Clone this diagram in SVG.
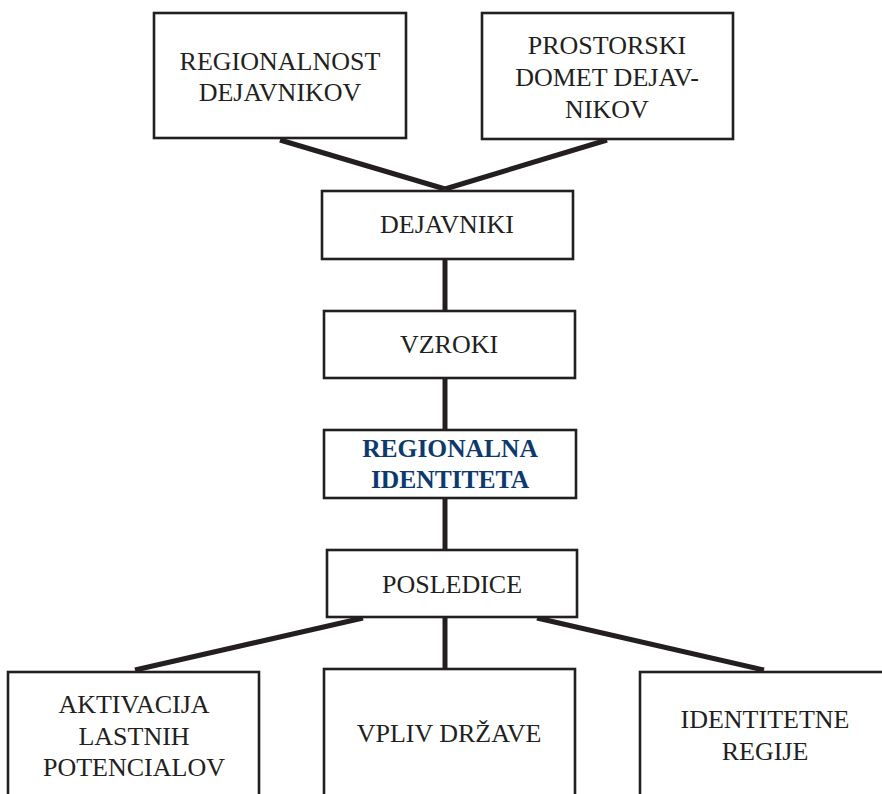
<svg xmlns="http://www.w3.org/2000/svg" width="882" height="794" viewBox="0 0 882 794">
<style>
.box{fill:#fff;stroke:#231f20;stroke-width:2.6}
.t{font-family:"Liberation Serif","Times New Roman",serif;font-size:26px;fill:#231f20;text-anchor:middle}
.b{font-family:"Liberation Serif","Times New Roman",serif;font-size:25.5px;font-weight:bold;fill:#0d3a6e;text-anchor:middle}
.c{stroke:#231f20;stroke-width:5;fill:none}
</style>
<rect width="882" height="794" fill="#fff"/>
<g id="connectors">
<line class="c" x1="280" y1="140" x2="445" y2="189"/>
<line class="c" x1="607" y1="140" x2="445" y2="189"/>
<line class="c" x1="445" y1="259" x2="445" y2="311"/>
<line class="c" x1="445" y1="378" x2="445" y2="430"/>
<line class="c" x1="445" y1="498" x2="445" y2="550"/>
<line class="c" x1="363" y1="618" x2="135" y2="670"/>
<line class="c" x1="445" y1="617" x2="445" y2="669"/>
<line class="c" x1="537" y1="618" x2="764" y2="670"/>
</g>
<g id="regionalnost">
<rect class="box" x="154" y="13" width="252" height="125"/>
<text class="t" x="280" y="70">REGIONALNOST</text>
<text class="t" x="280" y="101">DEJAVNIKOV</text>
</g>
<g id="prostorski">
<rect class="box" x="482" y="13" width="251" height="126"/>
<text class="t" x="607" y="54">PROSTORSKI</text>
<text class="t" x="607" y="86">DOMET DEJAV-</text>
<text class="t" x="607" y="118">NIKOV</text>
</g>
<g id="dejavniki">
<rect class="box" x="322" y="191" width="251" height="68"/>
<text class="t" x="447" y="233">DEJAVNIKI</text>
</g>
<g id="vzroki">
<rect class="box" x="324" y="311" width="251" height="67"/>
<text class="t" x="449" y="353">VZROKI</text>
</g>
<g id="regionalna">
<rect class="box" x="324" y="430" width="252" height="68"/>
<text class="b" x="450" y="457">REGIONALNA</text>
<text class="b" x="450" y="488">IDENTITETA</text>
</g>
<g id="posledice">
<rect class="box" x="327" y="550" width="250" height="67"/>
<text class="t" x="452" y="593">POSLEDICE</text>
</g>
<g id="aktivacija">
<rect class="box" x="8" y="672" width="251" height="140"/>
<text class="t" x="134" y="713">AKTIVACIJA</text>
<text class="t" x="134" y="745">LASTNIH</text>
<text class="t" x="134" y="776">POTENCIALOV</text>
</g>
<g id="vpliv">
<rect class="box" x="324" y="669" width="251" height="140"/>
<text class="t" x="449" y="742">VPLIV DRŽAVE</text>
</g>
<g id="identitetne">
<rect class="box" x="640" y="672" width="250" height="140"/>
<text class="t" x="765" y="728">IDENTITETNE</text>
<text class="t" x="765" y="760">REGIJE</text>
</g>
</svg>
